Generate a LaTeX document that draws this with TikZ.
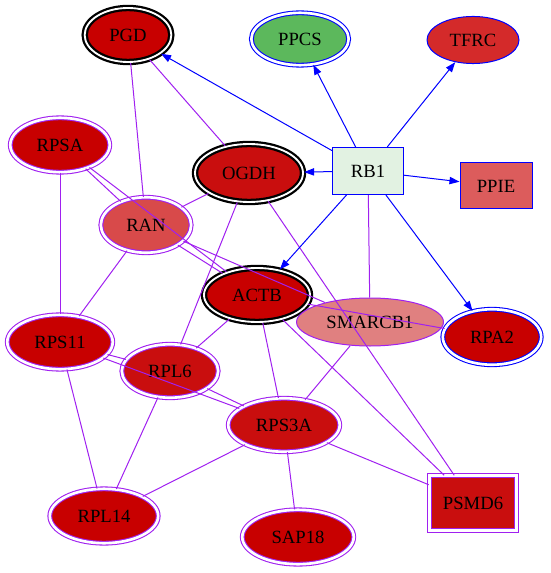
\documentclass[tikz,border=0pt]{standalone}
\usepackage{fontspec}
\setmainfont{Liberation Serif}
\usetikzlibrary{shapes.geometric,arrows.meta}

\definecolor{linkpurple}{HTML}{A020F0}
\definecolor{actblue}{HTML}{0000FF}
\definecolor{deepred}{HTML}{C80000}
\definecolor{midred}{HTML}{C90E0E}
\definecolor{ranred}{HTML}{D84A4A}
\definecolor{tfrcred}{HTML}{D42A2A}
\definecolor{ppiered}{HTML}{DC5C5C}
\definecolor{smarcpink}{HTML}{E08080}
\definecolor{ppcsgreen}{HTML}{5CB85C}
\definecolor{rbgreen}{HTML}{E2F2E2}

\tikzset{
	gene/.style={ellipse, inner sep=0pt, font=\fontsize{14}{16}\selectfont},
	box/.style={rectangle, inner sep=0pt, font=\fontsize{14}{16}\selectfont},
	blackring/.style={draw=black, line width=1.7pt, double=white, double distance=1.4pt},
	purplering/.style={draw=linkpurple, line width=0.8pt, double=white, double distance=2pt},
	bluering/.style={draw=actblue, line width=0.8pt, double=white, double distance=2pt},
	link/.style={linkpurple, line width=0.75pt},
	act/.style={actblue, line width=0.75pt, -{Triangle[length=7.5pt,width=5.5pt]}},
}

\begin{document}
\begin{tikzpicture}[x=0.75pt, y=-0.75pt]
		\useasboundingbox (0,0) rectangle (550,573);

		%top row
		\node[gene, blackring, fill=deepred, minimum width=65pt, minimum height=40.5pt] (PGD) at (128,35) {PGD};
		\node[gene, bluering, fill=ppcsgreen, minimum width=73pt, minimum height=39.3pt] (PPCS) at (300,39) {PPCS};
		\node[gene, draw=actblue, line width=0.75pt, fill=tfrcred, minimum width=69pt, minimum height=35.3pt] (TFRC) at (473,40) {TFRC};

		%RB1 row
		\node[gene, purplering, fill=deepred, minimum width=74.6pt, minimum height=40.8pt] (RPSA) at (60,145) {RPSA};
		\node[gene, blackring, fill=midred, minimum width=81pt, minimum height=43.5pt] (OGDH) at (249,173) {OGDH};
		\node[box, draw=actblue, line width=0.75pt, fill=rbgreen, minimum width=53.3pt, minimum height=35.3pt] (RB1) at (368,171) {RB1};
		\node[box, draw=actblue, line width=0.75pt, fill=ppiered, minimum width=54pt, minimum height=34.5pt] (PPIE) at (496,186) {PPIE};
		\node[gene, purplering, fill=ranred, minimum width=67.8pt, minimum height=41.6pt] (RAN) at (146,225) {RAN};

		%middle
		\node[gene, blackring, fill=deepred, minimum width=79.5pt, minimum height=40.5pt] (ACTB) at (257,295) {ACTB};
		\node[gene, draw=linkpurple, line width=0.75pt, fill=smarcpink, minimum width=110.2pt, minimum height=36pt] (SMARCB1) at (370,322) {SMARCB1};
		\node[gene, bluering, fill=deepred, minimum width=73.8pt, minimum height=41.6pt] (RPA2) at (492,337) {RPA2};
		\node[gene, purplering, fill=deepred, minimum width=79.1pt, minimum height=40.8pt] (RPS11) at (60,342) {RPS11};
		\node[gene, purplering, fill=midred, minimum width=72.3pt, minimum height=40.1pt] (RPL6) at (170,371) {RPL6};
		\node[gene, purplering, fill=midred, minimum width=83.6pt, minimum height=40.1pt] (RPS3A) at (284,425) {RPS3A};

		%bottom row
		\node[gene, purplering, fill=deepred, minimum width=81.3pt, minimum height=40.8pt] (RPL14) at (104,516) {RPL14};
		\node[gene, purplering, fill=deepred, minimum width=83.6pt, minimum height=40.8pt] (SAP18) at (298,537) {SAP18};
		\node[box, purplering, fill=midred, minimum width=65.6pt, minimum height=40.8pt] (PSMD6) at (473,503) {PSMD6};

		%interactions
		\draw[link] (PGD) -- (RAN);
		\draw[link] (PGD) -- (OGDH);
		\draw[link] (RPSA) -- (RPS11);
		\draw[link] (RPSA) -- (RAN);
		\draw[link] (RPSA) -- (ACTB);
		\draw[link] (RAN) -- (OGDH);
		\draw[link] (RAN) -- (ACTB);
		\draw[link] (RAN) -- (SMARCB1);
		\draw[link] (RAN) -- (RPS11);
		\draw[link] (OGDH) -- (RPL6);
		\draw[link] (OGDH) -- (PSMD6);
		\draw[link] (RB1) -- (SMARCB1);
		\draw[link] (ACTB) -- (RPA2);
		\draw[link] (ACTB) -- (RPL6);
		\draw[link] (ACTB) -- (RPS3A);
		\draw[link] (ACTB) -- (PSMD6);
		\draw[link] (SMARCB1) -- (RPS3A);
		\draw[link] (RPS11) -- (RPL6);
		\draw[link] (RPS11) -- (RPS3A);
		\draw[link] (RPS11) -- (RPL14);
		\draw[link] (RPL6) -- (RPS3A);
		\draw[link] (RPL6) -- (RPL14);
		\draw[link] (RPS3A) -- (RPL14);
		\draw[link] (RPS3A) -- (SAP18);
		\draw[link] (RPS3A) -- (PSMD6);

		%RB1 arrows
		\foreach \t in {PGD,PPCS,TFRC,OGDH,PPIE,ACTB,RPA2}{
			\draw[act] (RB1) -- (\t);
		}
	\end{tikzpicture}
\end{document}
